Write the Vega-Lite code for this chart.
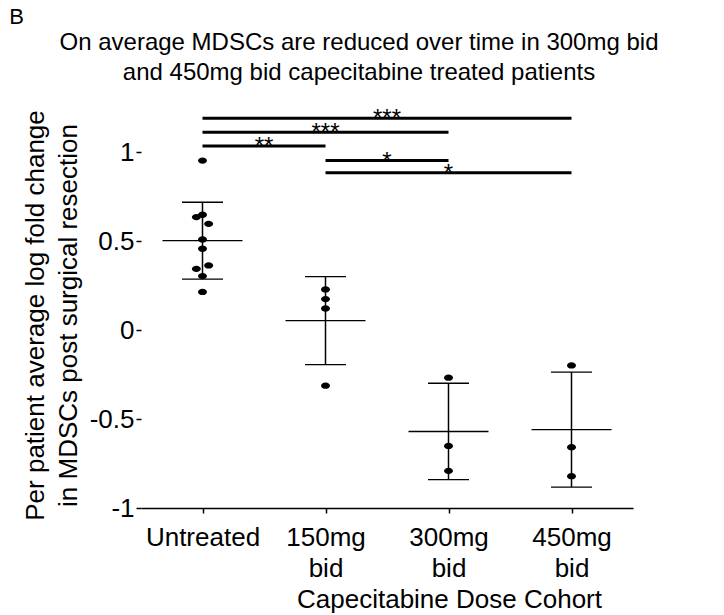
{
  "$schema": "https://vega.github.io/schema/vega-lite/v6.json",
  "background": "white",
  "padding": {"left": 9, "top": 6, "right": 5, "bottom": 5},
  "config": {
    "font": "Liberation Sans",
    "view": {"stroke": null},
    "axis": {"labelColor": "black", "titleColor": "black", "tickColor": "black", "domainColor": "black", "grid": false}
  },
  "datasets": {
    "points": [
      {"group": "Untreated", "g": 1, "jit": 0, "value": 0.954},
      {"group": "Untreated", "g": 1, "jit": 0, "value": 0.649},
      {"group": "Untreated", "g": 1, "jit": -0.05, "value": 0.636},
      {"group": "Untreated", "g": 1, "jit": 0.05, "value": 0.598},
      {"group": "Untreated", "g": 1, "jit": 0, "value": 0.51},
      {"group": "Untreated", "g": 1, "jit": 0, "value": 0.458},
      {"group": "Untreated", "g": 1, "jit": 0.05, "value": 0.364},
      {"group": "Untreated", "g": 1, "jit": -0.05, "value": 0.345},
      {"group": "Untreated", "g": 1, "jit": 0, "value": 0.304},
      {"group": "Untreated", "g": 1, "jit": 0, "value": 0.215},
      {"group": "150mg bid", "g": 2, "jit": 0, "value": 0.229},
      {"group": "150mg bid", "g": 2, "jit": 0, "value": 0.175},
      {"group": "150mg bid", "g": 2, "jit": 0, "value": 0.122},
      {"group": "150mg bid", "g": 2, "jit": 0, "value": -0.312},
      {"group": "300mg bid", "g": 3, "jit": 0, "value": -0.267},
      {"group": "300mg bid", "g": 3, "jit": 0, "value": -0.651},
      {"group": "300mg bid", "g": 3, "jit": 0, "value": -0.791},
      {"group": "450mg bid", "g": 4, "jit": 0, "value": -0.198},
      {"group": "450mg bid", "g": 4, "jit": 0, "value": -0.658},
      {"group": "450mg bid", "g": 4, "jit": 0, "value": -0.821}
    ],
    "sig": [
      {"from": 1, "to": 4, "level": 1.192, "label": "***"},
      {"from": 1, "to": 3, "level": 1.113, "label": "***"},
      {"from": 1, "to": 2, "level": 1.035, "label": "**"},
      {"from": 2, "to": 3, "level": 0.954, "label": "*"},
      {"from": 2, "to": 4, "level": 0.885, "label": "*"}
    ]
  },
  "title": {"text": "B", "anchor": "start", "frame": "bounds", "fontSize": 22, "fontWeight": "normal", "color": "black", "dx": -13, "offset": 2},
  "vconcat": [
    {
      "width": 492,
      "height": 409,
      "title": {
        "text": ["On average MDSCs are reduced over time in 300mg bid", "and 450mg bid capecitabine treated patients"],
        "fontSize": 24,
        "fontWeight": "normal",
        "color": "black",
        "lineHeight": 30,
        "anchor": "middle",
        "dx": -28,
        "offset": 14
      },
      "encoding": {
        "x": {
          "type": "quantitative",
          "scale": {"domain": [0.5, 4.5], "nice": false, "zero": false},
          "axis": {
            "values": [1, 2, 3, 4],
            "labelExpr": "datum.value == 1 ? 'Untreated' : datum.value == 2 ? ['150mg', 'bid'] : datum.value == 3 ? ['300mg', 'bid'] : ['450mg', 'bid']",
            "labelFontSize": 26,
            "labelLineHeight": 31,
            "labelPadding": 11,
            "labelFlush": false,
            "labelOverlap": false,
            "domainWidth": 1.5,
            "tickSize": 5,
            "tickWidth": 1.5,
            "title": "Capecitabine Dose Cohort",
            "titleFontSize": 26,
            "titleFontWeight": "normal",
            "titleX": 308,
            "titlePadding": 5
          }
        },
        "y": {
          "type": "quantitative",
          "scale": {"domain": [-1, 1.3], "nice": false, "zero": false},
          "axis": {
            "values": [-1, -0.5, 0, 0.5, 1],
            "labelExpr": "datum.value == -1 ? '-1' : datum.value == -0.5 ? '-0.5' : datum.value == 0 ? '0' : datum.value == 0.5 ? '0.5' : '1'",
            "labelFontSize": 26,
            "labelPadding": 2,
            "domain": false,
            "tickSize": 5,
            "tickWidth": 1.5,
            "title": ["Per patient average log fold change", "in MDSCs post surgical resection"],
            "titleFontSize": 26,
            "titleFontWeight": "normal",
            "titleLineHeight": 33,
            "titleY": 216,
            "titlePadding": 8
          }
        }
      },
      "layer": [
        {
          "mark": {"type": "rule", "color": "black", "strokeWidth": 2, "strokeDash": [1.5, 3]},
          "encoding": {"y": {"datum": 0, "type": "quantitative"}}
        },
        {
          "mark": {"type": "rule", "color": "black", "strokeWidth": 1.5},
          "encoding": {
            "x": {"datum": 0.5, "type": "quantitative"},
            "y": {"datum": -1, "type": "quantitative"},
            "y2": {"datum": 1}
          }
        },
        {
          "data": {"name": "points"},
          "transform": [
            {"aggregate": [{"op": "mean", "field": "value", "as": "mean"}, {"op": "stdev", "field": "value", "as": "sd"}], "groupby": ["g"]},
            {"calculate": "datum.mean - datum.sd", "as": "lo"},
            {"calculate": "datum.mean + datum.sd", "as": "hi"}
          ],
          "layer": [
            {
              "mark": {"type": "rule", "color": "black", "strokeWidth": 1.5},
              "encoding": {"x": {"field": "g", "type": "quantitative"}, "y": {"field": "lo", "type": "quantitative"}, "y2": {"field": "hi"}}
            },
            {
              "mark": {"type": "tick", "orient": "horizontal", "color": "black", "size": 41, "thickness": 1.3, "opacity": 1},
              "encoding": {"x": {"field": "g", "type": "quantitative"}, "y": {"field": "lo", "type": "quantitative"}}
            },
            {
              "mark": {"type": "tick", "orient": "horizontal", "color": "black", "size": 41, "thickness": 1.3, "opacity": 1},
              "encoding": {"x": {"field": "g", "type": "quantitative"}, "y": {"field": "hi", "type": "quantitative"}}
            },
            {
              "mark": {"type": "tick", "orient": "horizontal", "color": "black", "size": 80, "thickness": 1.3, "opacity": 1},
              "encoding": {"x": {"field": "g", "type": "quantitative"}, "y": {"field": "mean", "type": "quantitative"}}
            }
          ]
        },
        {
          "data": {"name": "points"},
          "transform": [{"calculate": "datum.g + datum.jit", "as": "xpos"}],
          "mark": {"type": "point", "filled": true, "color": "black", "opacity": 1, "size": 81, "shape": "M -1 0 A 1 0.7 0 1 1 1 0 A 1 0.7 0 1 1 -1 0 Z"},
          "encoding": {
            "x": {"field": "xpos", "type": "quantitative"},
            "y": {"field": "value", "type": "quantitative"}
          }
        },
        {
          "data": {"name": "sig"},
          "mark": {"type": "rule", "color": "black", "strokeWidth": 3},
          "encoding": {
            "x": {"field": "from", "type": "quantitative"},
            "x2": {"field": "to"},
            "y": {"field": "level", "type": "quantitative"}
          }
        },
        {
          "data": {"name": "sig"},
          "transform": [{"calculate": "(datum.from + datum.to) / 2", "as": "mid"}],
          "mark": {"type": "text", "color": "black", "fontSize": 24, "dy": 8, "baseline": "alphabetic", "align": "center"},
          "encoding": {
            "x": {"field": "mid", "type": "quantitative"},
            "y": {"field": "level", "type": "quantitative"},
            "text": {"field": "label"}
          }
        }
      ]
    }
  ]
}
